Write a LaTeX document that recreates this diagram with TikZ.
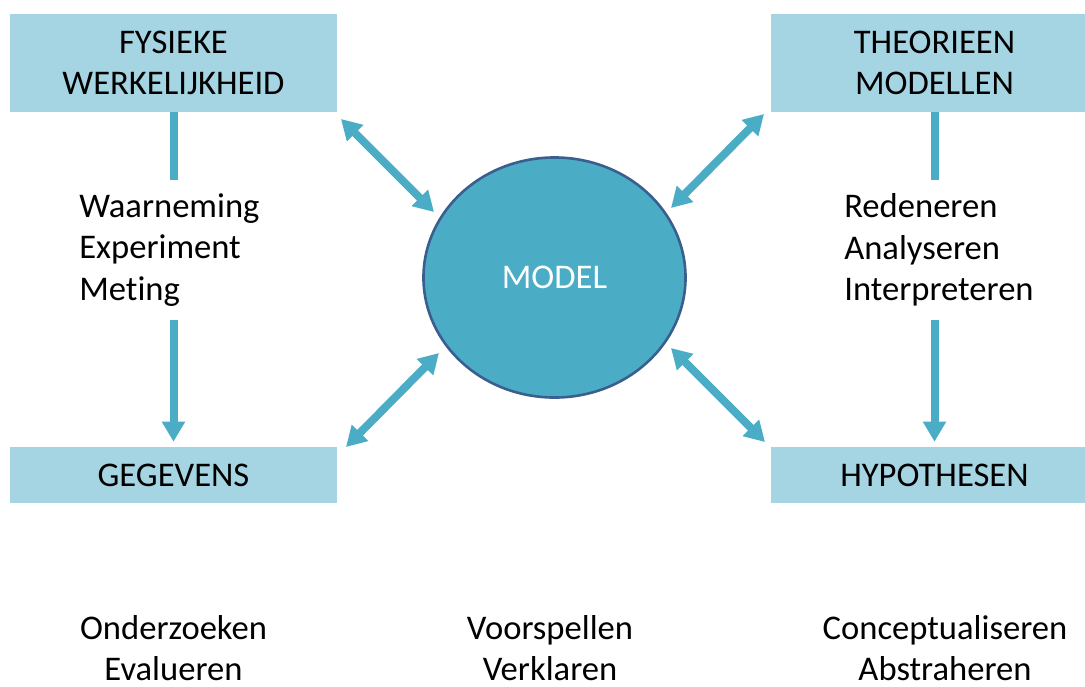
\documentclass[tikz,border=0pt]{standalone}
\usepackage{fontspec}
\setmainfont{Carlito}[Ligatures=NoCommon]
\usetikzlibrary{arrows.meta,shapes.geometric}
\definecolor{vakblauw}{HTML}{A5D5E2}
\definecolor{pijlblauw}{HTML}{4BACC6}
\definecolor{randblauw}{HTML}{3A5F8E}
\tikzset{
   tekst/.style={font=\fontsize{24.6}{29.4}\selectfont, inner sep=0pt},
   vak/.style={tekst, fill=vakblauw, align=center, minimum width=8.175cm},
   pijl/.style={draw=pijlblauw, line width=0.2cm, -{Triangle[length=0.5cm,width=0.55cm]}},
   dubbelpijl/.style={pijl, {Triangle[length=0.5cm,width=0.55cm]}-{Triangle[length=0.5cm,width=0.55cm]}}
}

\begin{document}
\begin{tikzpicture}[x=0.025cm,y=-0.025cm]
   \useasboundingbox (0,0) rectangle (1085,686);
   \clip (0,0) rectangle (1085,686);
   \node[vak, minimum height=2.425cm] (fysiek) at (173.5,63) {FYSIEKE\\WERKELIJKHEID};
   \node[vak, minimum height=2.425cm] (theorie) at (934.5,63) {THEORIEEN\\MODELLEN};
   \node[vak, minimum height=1.4cm] (gegevens) at (173.5,475) {GEGEVENS};
   \node[vak, minimum height=1.4cm] (hypo) at (934.5,475) {HYPOTHESEN};
   \node[tekst, ellipse, fill=pijlblauw, draw=randblauw, line width=0.065cm, text=white,
         minimum width=6.55cm, minimum height=6.0cm] (model) at (554.5,277.5) {MODEL};
   \node[tekst, align=left, anchor=west] (waarneming) at (79,250) {Waarneming\\Experiment\\Meting};
   \node[tekst, align=left, anchor=west] (redeneren) at (844,250) {Redeneren\\Analyseren\\Interpreteren};
   \node[tekst, align=center] (onderzoeken) at (173.5,648) {Onderzoeken\\Evalueren};
   \node[tekst, align=center] (voorspellen) at (550,648) {Voorspellen\\Verklaren};
   \node[tekst, align=center] (concept) at (945,648) {Conceptualiseren\\Abstraheren};
   \coordinate (lboven) at (173.5,180);
   \coordinate (londer) at (173.5,320);
   \coordinate (rboven) at (934.5,180);
   \coordinate (ronder) at (934.5,320);
   \draw[pijlblauw, line width=0.2cm] (fysiek.south) -- (lboven);
   \draw[pijlblauw, line width=0.2cm] (theorie.south) -- (rboven);
   \draw[pijl, shorten >=0.125cm] (londer) -- (gegevens.north);
   \draw[pijl, shorten >=0.125cm] (ronder) -- (hypo.north);
   \coordinate (lb1) at (341,119); \coordinate (lb2) at (434,212);
   \coordinate (rb1) at (764,114); \coordinate (rb2) at (671,208);
   \coordinate (lo1) at (346,447); \coordinate (lo2) at (439,353);
   \coordinate (ro1) at (765,442); \coordinate (ro2) at (671,348);
   \draw[dubbelpijl] (lb1) -- (lb2);
   \draw[dubbelpijl] (rb1) -- (rb2);
   \draw[dubbelpijl] (lo1) -- (lo2);
   \draw[dubbelpijl] (ro1) -- (ro2);
\end{tikzpicture}
\end{document}
